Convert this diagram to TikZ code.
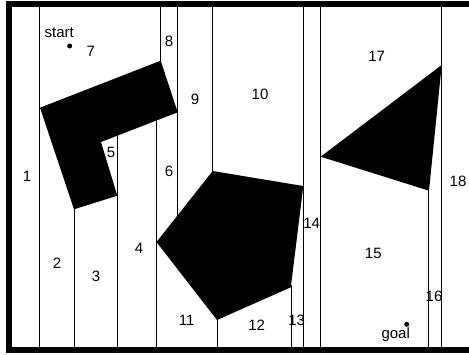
\documentclass[tikz,border=0pt]{standalone}
\usepackage{fontspec}
\setmainfont{Liberation Sans}
\begin{document}
\begin{tikzpicture}[x=1pt,y=-1pt,
  cellline/.style={line width=0.9pt},
  obstacle/.style={fill=black},
  frameline/.style={line width=5.6pt},
  lbl/.style={font=\fontsize{15}{18}\selectfont, inner sep=0pt},
  dotmark/.style={circle, fill=black, inner sep=0pt, minimum size=5pt}]
\useasboundingbox (0,0) rectangle (469,354);
\fill[white] (0,0) rectangle (469,354);
% cell boundaries
\draw[cellline] (39.3,7) -- (39.3,347);
\draw[cellline] (74,209) -- (74,347);
\draw[cellline] (117.3,134) -- (117.3,347);
\draw[cellline] (156.7,118) -- (156.7,347);
\draw[cellline] (160.7,7) -- (160.7,62);
\draw[cellline] (177.7,7) -- (177.7,217);
\draw[cellline] (212.7,7) -- (212.7,173);
\draw[cellline] (217,318) -- (217,347);
\draw[cellline] (291,285) -- (291,347);
\draw[cellline] (303.3,7) -- (303.3,347);
\draw[cellline] (320.7,7) -- (320.7,347);
\draw[cellline] (428.8,189) -- (428.8,347);
\draw[cellline] (441.7,7) -- (441.7,347);
% obstacles
\fill[obstacle] (40,107.7) -- (160.7,60.7) -- (177.7,112.3) -- (101,142) -- (117.3,195.7) -- (74,209.3) -- cycle;
\fill[obstacle] (156.5,242) -- (212.7,171) -- (303.3,186) -- (290.8,287.3) -- (217,320) -- cycle;
\fill[obstacle] (320.7,156.7) -- (441.7,65) -- (429,190.7) -- cycle;
% frame
\draw[frameline] (469,4.2) -- (9.2,4.2) -- (9.2,350.2) -- (469,350.2);
% labels
\node[lbl] (start) at (59.3,32.5) {start};
\node[dotmark] (sdot) at (69.7,46) {};
\node[lbl] (c1) at (27,176) {1};
\node[lbl] (c2) at (57,263.3) {2};
\node[lbl] (c3) at (96,276.7) {3};
\node[lbl] (c4) at (139,248.3) {4};
\node[lbl] (c5) at (111,152) {5};
\node[lbl] (c6) at (169,171) {6};
\node[lbl] (c7) at (90.7,51) {7};
\node[lbl] (c8) at (169,41.7) {8};
\node[lbl] (c9) at (195,99) {9};
\node[lbl] (c10) at (260,94) {10};
\node[lbl] (c11) at (186.7,320) {11};
\node[lbl] (c12) at (256.7,325) {12};
\node[lbl] (c13) at (296.7,320) {13};
\node[lbl] (c14) at (311.7,223.3) {14};
\node[lbl] (c15) at (373.3,253.3) {15};
\node[lbl] (c16) at (434,296) {16};
\node[lbl] (c17) at (376.7,56) {17};
\node[lbl] (c18) at (458,181) {18};
\node[dotmark] (gdot) at (406.7,324.3) {};
\node[lbl] (goal) at (395.7,334.5) {goal};
\end{tikzpicture}
\end{document}
